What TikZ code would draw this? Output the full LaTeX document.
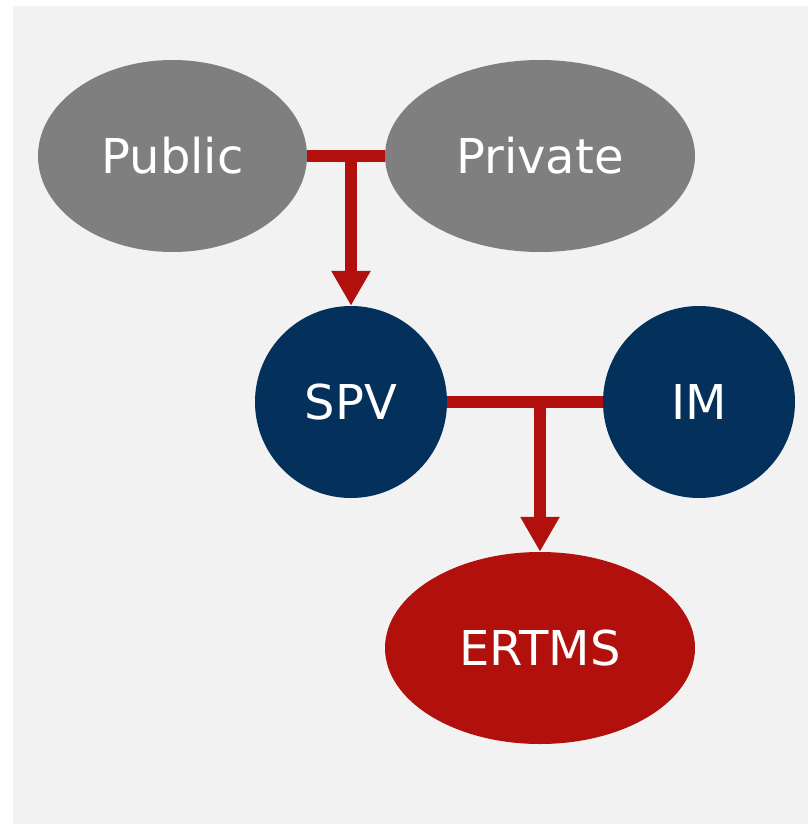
\documentclass[tikz,border=0pt]{standalone}
\usepackage{fontspec}
\setmainfont{DejaVu Sans}
\usetikzlibrary{shapes.geometric,arrows.meta}
\definecolor{bgc}{HTML}{F2F2F2}
\definecolor{grayc}{HTML}{7F7F7F}
\definecolor{navyc}{HTML}{03315B}
\definecolor{redc}{HTML}{B2100C}
\tikzset{
  lbl/.style={ellipse, inner sep=0pt, text=white, font=\fontsize{48}{58}\selectfont},
  grayell/.style={lbl, fill=grayc, minimum height=192pt},
  navycirc/.style={lbl, fill=navyc, minimum width=192pt, minimum height=192pt},
  redell/.style={lbl, fill=redc, minimum height=192pt},
  link/.style={draw=redc, line width=12pt},
  arr/.style={link, -{Triangle[width=37pt,length=35pt]}}
}
\begin{document}
\begin{tikzpicture}[x=1pt,y=-1pt]
\useasboundingbox (0,0) rectangle (808,824);
\fill[bgc] (13,6) rectangle (808,824);
\node[grayell, minimum width=269pt] (pub) at (172.5,156) {Public};
\node[grayell, minimum width=310pt] (priv) at (540,156) {Private};
\node[navycirc] (spv) at (351,402) {SPV};
\node[navycirc] (im) at (699,402) {IM};
\node[redell, minimum width=310pt] (ertms) at (540,648) {ERTMS};
\coordinate (j1) at (spv.north |- pub.east);
\coordinate (j2) at (ertms.north |- spv.east);
\draw[link] (pub.east) -- (priv.west);
\draw[arr] (j1) -- (spv.north);
\draw[link] (spv.east) -- (im.west);
\draw[arr] (j2) -- (ertms.north);
\end{tikzpicture}
\end{document}
